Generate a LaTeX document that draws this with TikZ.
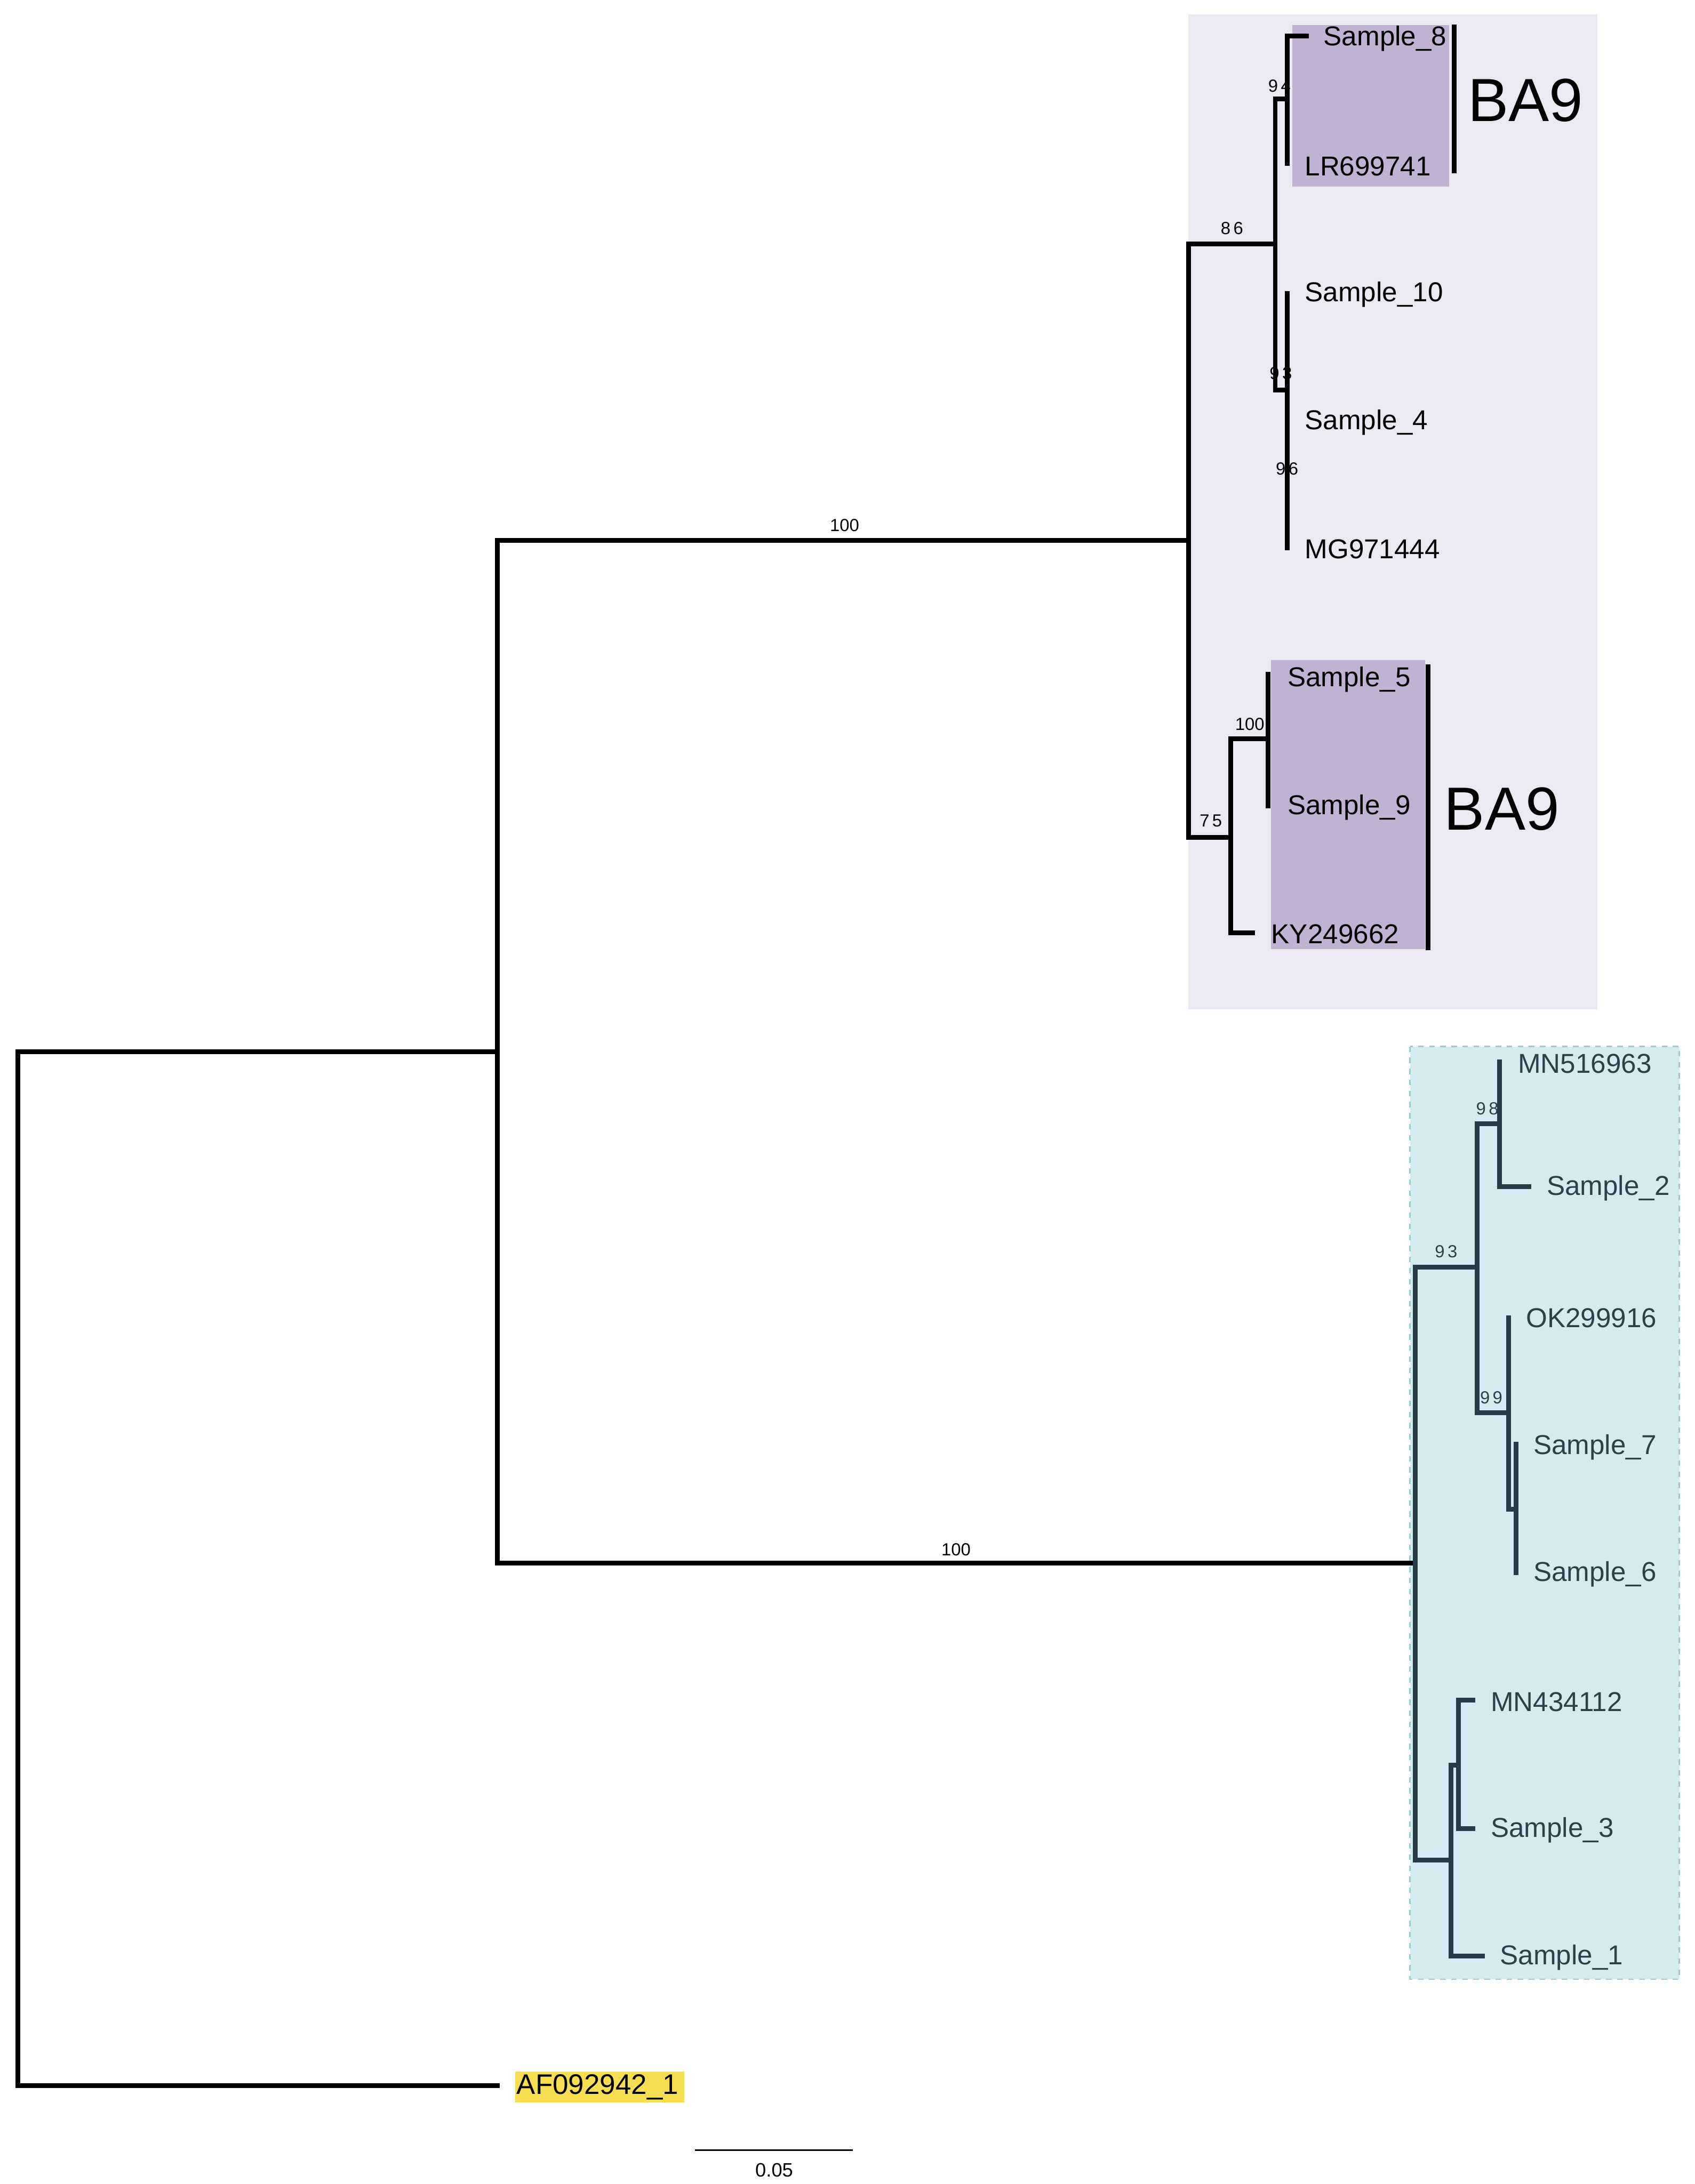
\documentclass[tikz,border=0pt]{standalone}
\usepackage{fontspec}
\setmainfont{Liberation Sans}
\begin{document}
\begin{tikzpicture}[x=0.026546cm,y=-0.026546cm,
  br/.style={line width=2.6pt,line cap=rect,draw=black},
  bbr/.style={line width=2.6pt,line cap=rect,draw=bluedark},
  leaf/.style={anchor=west,inner sep=0pt,font=\fontsize{14.8}{16}\selectfont,text=black},
  bleaf/.style={leaf,text=bluetext},
  boot/.style={inner sep=0pt,font=\fontsize{9.5}{11}\selectfont,text=black},
  bboot/.style={boot,text=bluetext},
  clade/.style={anchor=west,inner sep=0pt,font=\fontsize{33}{36}\selectfont},
  bar/.style={line width=2.6pt,draw=black}]
\definecolor{lav}{RGB}{236,233,242}
\definecolor{purp}{RGB}{191,178,211}
\definecolor{bluebg}{RGB}{214,235,241}
\definecolor{blueedge}{RGB}{160,200,212}
\definecolor{bluedark}{RGB}{38,59,69}
\definecolor{bluetext}{RGB}{44,64,74}
\definecolor{yel}{RGB}{246,222,80}
\useasboundingbox (0,0) rectangle (1216,1567.5);
\fill[white] (0,0) rectangle (1216,1567.5);
% backgrounds
\fill[lav] (852.5,10.2) rectangle (1146,724.4);
\fill[purp] (927.4,18.1) rectangle (1039.9,133.9);
\fill[purp] (912,473.6) rectangle (1022.5,681.1);
\filldraw[fill=bluebg,draw=blueedge,dashed,line width=0.8pt] (1011.7,751.1) rectangle (1205,1420.5);
\fill[yel] (369.8,1486.7) rectangle (490.9,1509);
% coordinates
\coordinate (root) at (13,755);
\coordinate (n1) at (357,755);
\coordinate (af) at (357,1497);
\coordinate (n2) at (853,388);
\coordinate (n3) at (1015.4,1122);
\coordinate (n4) at (915,175);
\coordinate (n5) at (883,601);
\coordinate (n6) at (923.6,71);
\coordinate (n7) at (923.6,280);
\coordinate (t8) at (937.4,26);
\coordinate (tLR) at (923.6,117.2);
\coordinate (t10) at (923.6,210.5);
\coordinate (tMG) at (923.6,393.4);
\coordinate (n9) at (910,530.3);
\coordinate (tKY) at (898.6,669.6);
\coordinate (t5) at (910,484);
\coordinate (t9) at (910,578.3);
\coordinate (n10) at (1060,909.4);
\coordinate (n11) at (1041,1335);
\coordinate (n12) at (1076,806.4);
\coordinate (n13) at (1082.4,1014);
\coordinate (tMN5) at (1076,762.3);
\coordinate (t2) at (1097,851.8);
\coordinate (tOK) at (1082.4,945.7);
\coordinate (n14) at (1087.7,1083.2);
\coordinate (t7) at (1087.7,1036.5);
\coordinate (t6) at (1087.7,1128.6);
\coordinate (n15) at (1046.5,1267);
\coordinate (t1) at (1063.7,1404);
\coordinate (tMN4) at (1056.6,1220.3);
\coordinate (t3) at (1056.6,1312.4);
% bootstrap labels (under lines)
\node[boot] (b1) at (606,377) {100};
\node[boot] (b2) at (686,1112) {100};
\node[boot] (b3) at (884,164) {8\,6};
\node[boot] (b4) at (918,61.7) {9\,4};
\node[boot] (b5) at (919,268) {9\,3};
\node[boot] (b6) at (923.5,336.5) {9\,6};
\node[boot] (b7) at (868.8,589) {7\,5};
\node[boot] (b8) at (896.7,519.7) {100};
\node[bboot] (b9) at (1037.6,898.1) {9\,3};
\node[bboot] (b10) at (1067.2,795.6) {9\,8};
\node[bboot] (b11) at (1070,1003.2) {9\,9};
% branches
\draw[br] (root) -- (n1);
\draw[br] (root) |- (af);
\draw[br] (n1) |- (n2);
\draw[br] (n1) |- (n3);
\draw[br] (n2) |- (n4);
\draw[br] (n2) |- (n5);
\draw[br] (n4) |- (n6);
\draw[br] (n4) |- (n7);
\draw[br] (n6) |- (t8);
\draw[br] (n6) -- (tLR);
\draw[br] (t10) -- (tMG);
\draw[br] (n5) |- (n9);
\draw[br] (n5) |- (tKY);
\draw[br] (t5) -- (t9);
\draw[bbr] (n3) |- (n10);
\draw[bbr] (n3) |- (n11);
\draw[bbr] (n10) |- (n12);
\draw[bbr] (n10) |- (n13);
\draw[bbr] (n12) |- (tMN5);
\draw[bbr] (n12) |- (t2);
\draw[bbr] (n13) |- (tOK);
\draw[bbr] (n13) |- (n14);
\draw[bbr] (n14) |- (t7);
\draw[bbr] (n14) |- (t6);
\draw[bbr] (n11) |- (n15);
\draw[bbr] (n11) |- (t1);
\draw[bbr] (n15) |- (tMN4);
\draw[bbr] (n15) |- (t3);
% leaf labels
\node[leaf] (l8) at (949.5,27.5) {Sample\_8};
\node[leaf] (lLR) at (936,119.5) {LR699741};
\node[leaf] (l10) at (936,211.5) {Sample\_10};
\node[leaf] (l4) at (936,303) {Sample\_4};
\node[leaf] (lMG) at (936,394) {MG971444};
\node[leaf] (l5) at (923.6,487.6) {Sample\_5};
\node[leaf] (l9) at (923.6,579.3) {Sample\_9};
\node[leaf] (lKY) at (912,670.6) {KY249662};
\node[bleaf] (lMN5) at (1088.9,763.3) {MN516963};
\node[bleaf] (l2) at (1109.6,852.8) {Sample\_2};
\node[bleaf] (lOK) at (1094.8,945.8) {OK299916};
\node[bleaf] (l7) at (1100,1038.8) {Sample\_7};
\node[bleaf] (l6) at (1100,1129.6) {Sample\_6};
\node[bleaf] (lMN4) at (1069.4,1221.3) {MN434112};
\node[bleaf] (l3) at (1069.4,1313.4) {Sample\_3};
\node[bleaf] (l1) at (1076.1,1405) {Sample\_1};
\node[leaf,font=\fontsize{15.3}{17}\selectfont] (lAF) at (370.5,1497.8) {AF092942\_1};
% clade bars
\coordinate (ba1t) at (1043.3,17.6);
\coordinate (ba1b) at (1043.3,124.3);
\draw[bar] (ba1t) -- (ba1b);
\node[clade] (BA1) at (1053,72) {BA9};
\coordinate (ba2t) at (1024.5,477);
\coordinate (ba2b) at (1024.5,682);
\draw[bar] (ba2t) -- (ba2b);
\node[clade] (BA2) at (1036,580.5) {BA9};
% scale bar
\coordinate (sbl) at (498.6,1543.2);
\coordinate (sbr) at (612,1543.2);
\draw[line width=1.1pt] (sbl) -- (sbr);
\node[boot,font=\fontsize{10.5}{12}\selectfont] (sbt) at (555.5,1557.5) {0.05};
\end{tikzpicture}
\end{document}
